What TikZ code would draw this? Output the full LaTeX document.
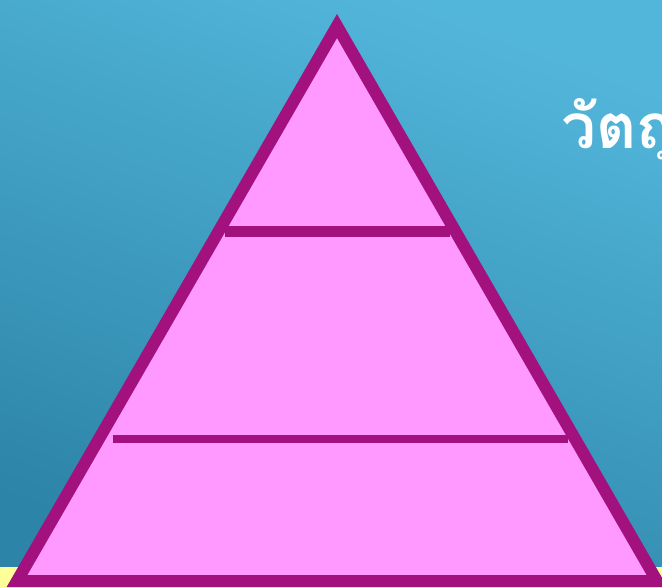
\documentclass[tikz,border=0pt]{standalone}
\usepackage{fontspec}
\newfontfamily\thaifont[Script=Thai]{Loma}
\definecolor{bgtop}{HTML}{52B6DA}
\definecolor{bgbot}{HTML}{2C84A8}
\definecolor{pinkfill}{HTML}{FF99FF}
\definecolor{purp}{HTML}{A3117F}
\definecolor{pale}{HTML}{FFFF99}
\tikzset{
  outline/.style={draw=purp, line width=12pt, fill=pinkfill, miter limit=20},
  divider/.style={draw=purp},
  title/.style={text=white, font=\thaifont\bfseries\fontsize{62}{66}\selectfont, inner sep=0pt, anchor=base west}
}
\begin{document}
\begin{tikzpicture}[x=1pt,y=-1pt]
\useasboundingbox (0,0) rectangle (662,587);
\begin{scope}
\clip (0,0) rectangle (662,587);
\shade[top color=bgtop, bottom color=bgbot, shading angle=-20] (0,0) rectangle (662,587);
\fill[pale] (0,567) rectangle (662,600);
\coordinate (apex) at (337,26);
\coordinate (bl) at (17,581);
\coordinate (br) at (657,581);
\draw[outline] (apex) -- (bl) -- (br) -- cycle;
\coordinate (u1) at (225,231);
\coordinate (u2) at (450,231);
\coordinate (l1) at (113,439);
\coordinate (l2) at (568,439);
\draw[divider, line width=11pt] (u1) -- (u2);
\draw[divider, line width=8pt] (l1) -- (l2);
\node[title] (t) at (561,148) {วัตถุ};
\end{scope}
\end{tikzpicture}
\end{document}
